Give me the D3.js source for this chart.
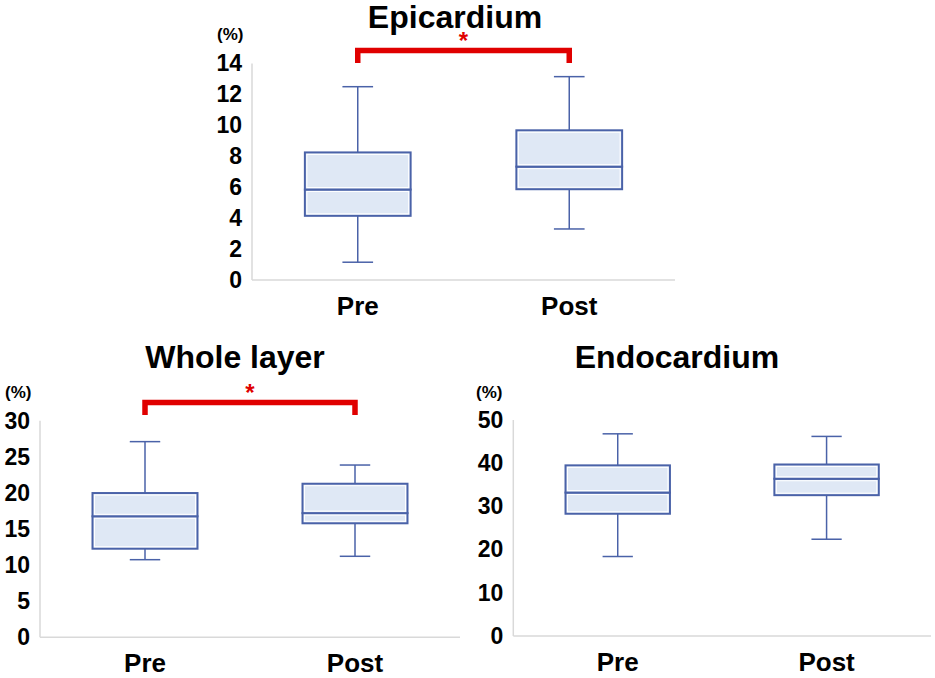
<!DOCTYPE html>
<html><head><meta charset="utf-8">
<script src="https://cdn.jsdelivr.net/npm/d3@7"></script>
<style>body{margin:0;background:#fff}svg{display:block;font-family:"Liberation Sans",Arial,sans-serif;font-weight:bold}</style>
</head><body><svg id="c" width="935" height="678"></svg>
<script>
const categories = ["Pre", "Post"];
// [min, Q1, median, Q3, max]
const epicardium = [[1.15, 4.15, 5.85, 8.25, 12.5], [3.3, 5.87, 7.33, 9.68, 13.15]];
const wholeLayer = [[10.75, 12.27, 16.76, 19.98, 27.1], [11.22, 15.79, 17.2, 21.27, 23.86]];
const endocardium = [[18.4, 28.3, 33.2, 39.5, 46.8], [22.4, 32.6, 36.4, 39.7, 46.2]];
const epiTicks = [0, 2, 4, 6, 8, 10, 12, 14];
const wholeTicks = [0, 5, 10, 15, 20, 25, 30];
const endoTicks = [0, 10, 20, 30, 40, 50];

const svg = d3.select("#c");
const BLUE = "#4a62a8", FILL = "#dfe8f5", RED = "#e00000";

function panel(o) {
  const g = svg.append("g");
  const y = d3.scaleLinear().domain([0, o.ticks[o.ticks.length - 1]]).range([o.y0, o.y1]);
  const x = d3.scaleBand().domain(categories).range([o.x0, o.x1]).paddingInner(0).paddingOuter(0);
  // axis lines
  g.append("line").attr("x1", o.x0).attr("x2", o.x0).attr("y1", o.y1).attr("y2", o.y0).attr("stroke", "#d9d9d9").attr("stroke-width", 1.5);
  g.append("line").attr("x1", o.x0).attr("x2", o.x1).attr("y1", o.y0).attr("y2", o.y0).attr("stroke", "#d9d9d9").attr("stroke-width", 1.5);
  const ya = d3.axisLeft(y).tickValues(o.ticks).tickSize(0).tickPadding(10);
  const ag = g.append("g").attr("transform", `translate(${o.x0},0)`).call(ya);
  ag.select(".domain").remove();
  ag.selectAll("text").attr("font-size", 23).attr("font-weight", "bold").attr("fill", "#000").attr("font-family", '"Liberation Sans",Arial,sans-serif');
  const xa = d3.axisBottom(x).tickSize(0).tickPadding(10);
  const xg = g.append("g").attr("transform", `translate(0,${o.y0})`).call(xa);
  xg.select(".domain").remove();
  xg.selectAll("text").attr("font-size", 26).attr("font-weight", "bold").attr("fill", "#000").attr("font-family", '"Liberation Sans",Arial,sans-serif').attr("dy", "0.95em");
  // title
  g.append("text").attr("x", o.tx).attr("y", o.ty).attr("text-anchor", "middle").attr("font-size", 32).text(o.title);
  g.append("text").attr("x", o.px).attr("y", o.py).attr("font-size", 17).text("(%)");
  const bw = x.bandwidth() * 0.5, cw = x.bandwidth() * 0.145;
  o.data.forEach((d, i) => {
    const cx = x(categories[i]) + x.bandwidth() / 2;
    const bg = g.append("g");
    // whiskers
    [[d[0], d[1]], [d[3], d[4]]].forEach(([a, b]) => {
      bg.append("line").attr("x1", cx).attr("x2", cx).attr("y1", y(a)).attr("y2", y(b)).attr("stroke", BLUE).attr("stroke-width", 1.5);
    });
    [d[0], d[4]].forEach(v => {
      bg.append("line").attr("x1", cx - cw / 2).attr("x2", cx + cw / 2).attr("y1", y(v)).attr("y2", y(v)).attr("stroke", BLUE).attr("stroke-width", 1.5);
    });
    [[d[1], d[2]], [d[2], d[3]]].forEach(([a, b]) => {
      bg.append("rect").attr("x", cx - bw / 2).attr("width", bw).attr("y", y(b)).attr("height", y(a) - y(b))
        .attr("fill", FILL).attr("stroke", BLUE).attr("stroke-width", 2);
      bg.append("rect").attr("x", cx - bw / 2 + 2).attr("width", bw - 4).attr("y", y(b) + 2).attr("height", Math.max(0, y(a) - y(b) - 4))
        .attr("fill", "none").attr("stroke", "#fff").attr("stroke-width", 1);
    });
  });
  if (o.sig) {
    const xa1 = x(categories[0]) + x.bandwidth() / 2, xa2 = x(categories[1]) + x.bandwidth() / 2;
    const top = o.sig.top, bot = o.sig.bot;
    g.append("path").attr("d", `M${xa1},${bot}V${top}H${xa2}V${bot}`).attr("fill", "none").attr("stroke", RED).attr("stroke-width", 5.5).attr("stroke-linejoin", "miter");
    g.append("text").attr("x", (xa1 + xa2) / 2).attr("y", top - 2).attr("text-anchor", "middle").attr("fill", RED).attr("font-size", 24).text("*");
  }
}

panel({ title: "Epicardium", data: epicardium, ticks: epiTicks, x0: 252, x1: 675, y0: 280, y1: 63.5, tx: 455, ty: 28, px: 217, py: 40, sig: { top: 50.5, bot: 63 } });
panel({ title: "Whole layer", data: wholeLayer, ticks: wholeTicks, x0: 40, x1: 460, y0: 637.3, y1: 420.7, tx: 235, ty: 368, px: 5, py: 398, sig: { top: 402.5, bot: 415 } });
panel({ title: "Endocardium", data: endocardium, ticks: endoTicks, x0: 513.3, x1: 931, y0: 636, y1: 420, tx: 677, ty: 368, px: 476, py: 398 });
</script></body></html>
